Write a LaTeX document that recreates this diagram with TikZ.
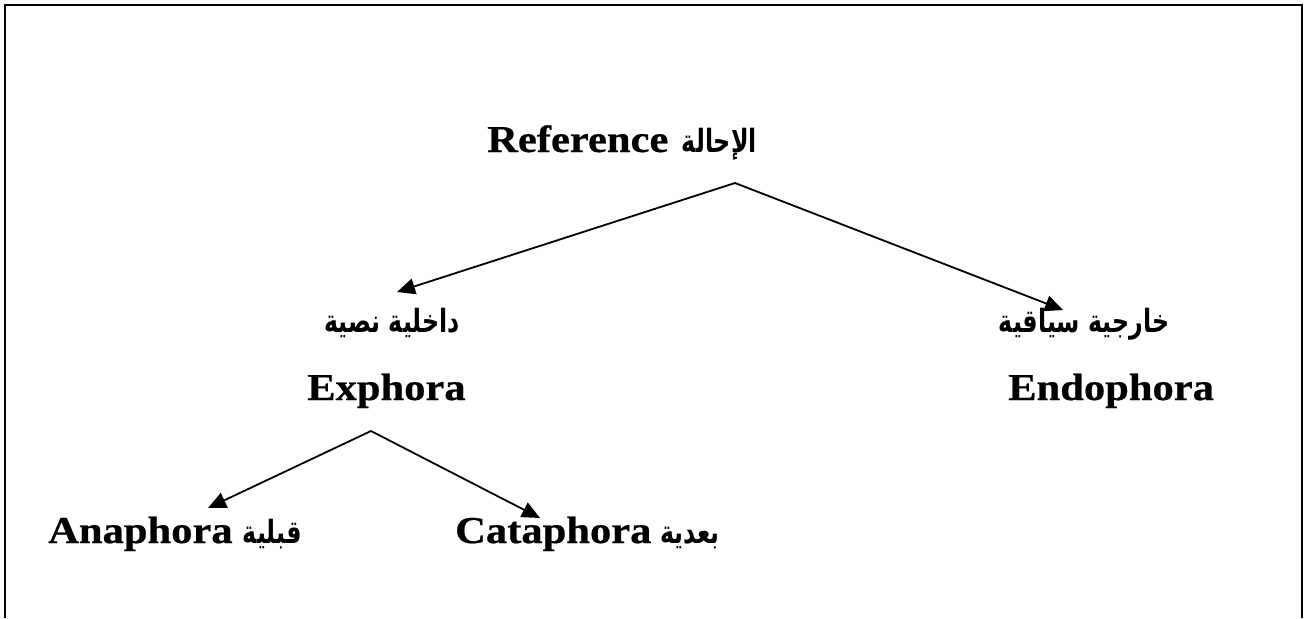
\documentclass[tikz,border=0pt]{standalone}
\usepackage{fontspec}
\usetikzlibrary{arrows.meta}
\TeXXeTstate=1
\newfontfamily\latfont[FakeStretch=1.12,FakeBold=0.6]{Liberation Serif}
\newfontfamily\arabicfont[Script=Arabic,FakeStretch=0.74]{DejaVu Sans}
\tikzset{
  lat/.style={font=\latfont\bfseries\fontsize{38}{40}\selectfont, inner sep=0pt},
  arb/.style={font=\arabicfont\bfseries\fontsize{32}{34}\selectfont, inner sep=0pt},
  arr/.style={line width=1.8pt, -{Triangle[length=18pt,width=16pt]}},
  frame/.style={line width=2.2pt}
}
\begin{document}
\begin{tikzpicture}[x=1pt,y=-1pt]
\useasboundingbox (0,0) rectangle (1305,618);
\draw[frame] (5,618) -- (5,5) -- (1302,5) -- (1302,618);
% top
\node[lat, anchor=base west] (refl) at (487,152) {Reference};
\node[arb, anchor=base east] (refa) at (757,152) {\beginR الإحالة\endR};
\coordinate (apex1) at (735,183);
% second level
\node[arb, anchor=base] (intra) at (392,332) {\beginR داخلية نصية\endR};
\node[lat, anchor=base west] (exph) at (307,400) {Exphora};
\node[arb, anchor=base] (extra) at (1084,332) {\beginR خارجية سياقية\endR};
\node[lat, anchor=base west] (endo) at (1008,400) {Endophora};
\coordinate (t1) at (397,292);
\coordinate (t2) at (1063,310);
\coordinate (apex2) at (371,431);
% third level
\node[lat, anchor=base west] (anal) at (48,543) {Anaphora};
\node[arb, anchor=base east] (anaa) at (302,543) {\beginR قبلية\endR};
\node[lat, anchor=base west] (catal) at (455,543) {Cataphora};
\node[arb, anchor=base east] (cataa) at (720,543) {\beginR بعدية\endR};
\coordinate (t3) at (208,508);
\coordinate (t4) at (540,518);
% connectors
\draw[arr] (apex1) -- (t1);
\draw[arr] (apex1) -- (t2);
\draw[arr] (apex2) -- (t3);
\draw[arr] (apex2) -- (t4);
\end{tikzpicture}
\end{document}
